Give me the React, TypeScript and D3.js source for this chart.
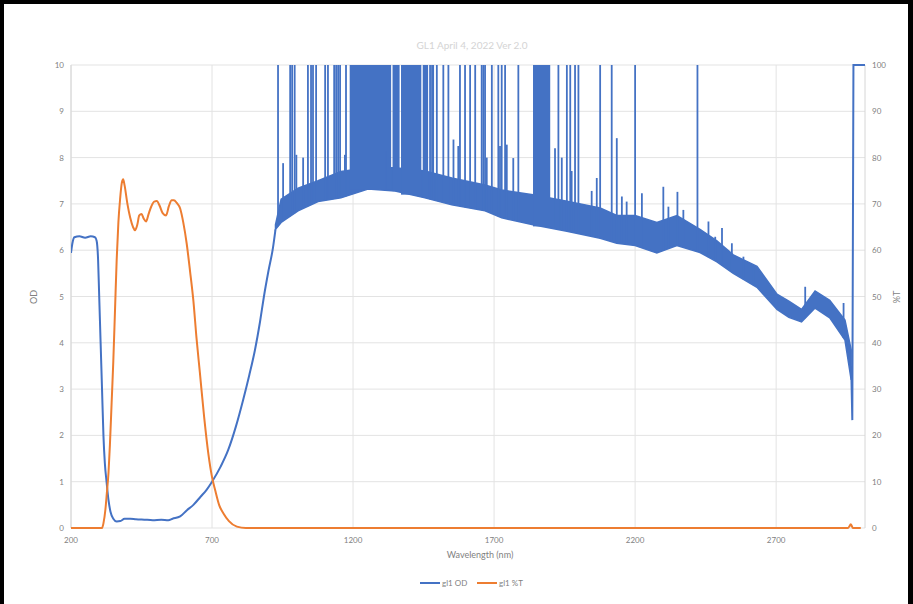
import React from "react";
import * as d3 from "d3";

// ---------- data ----------
const xTicks = [200, 700, 1200, 1700, 2200, 2700];
const odTicks = [0, 1, 2, 3, 4, 5, 6, 7, 8, 9, 10];
const tTicks = [0, 10, 20, 30, 40, 50, 60, 70, 80, 90, 100];

// gl1 OD – smooth part (nm, OD)
const odSmoothNm = [200, 205, 212, 230, 250, 270, 285, 291, 296, 300, 305, 310, 315, 320, 326, 333, 340, 350, 362, 375, 390, 410, 430, 460, 490, 520, 545, 560, 587, 610, 634, 660, 680, 700, 730, 757, 785, 810, 832, 852, 870, 884, 900, 916, 925];
const odSmoothVal = [5.94, 6.15, 6.28, 6.3, 6.27, 6.3, 6.28, 6.2, 5.8, 5.0, 4.0, 3.0, 2.0, 1.4, 1.0, 0.6, 0.35, 0.2, 0.14, 0.15, 0.2, 0.2, 0.19, 0.18, 0.17, 0.18, 0.17, 0.2, 0.25, 0.38, 0.5, 0.68, 0.82, 1.0, 1.32, 1.68, 2.2, 2.76, 3.3, 3.84, 4.45, 5.0, 5.55, 6.05, 6.45];

// gl1 OD – noisy region, envelope of the noise band
const bandNm = [925, 945, 1005, 1076, 1157, 1253, 1349, 1455, 1550, 1668, 1727, 1838, 1958, 2076, 2135, 2200, 2277, 2348, 2430, 2490, 2548, 2632, 2703, 2745, 2790, 2838, 2890, 2944, 2966];
const bandLow = [6.45, 6.6, 6.85, 7.05, 7.13, 7.32, 7.28, 7.13, 6.98, 6.85, 6.7, 6.55, 6.41, 6.26, 6.15, 6.1, 5.94, 6.1, 5.95, 5.75, 5.5, 5.2, 4.72, 4.55, 4.45, 4.75, 4.54, 4.06, 3.2];
const bandHigh = [6.55, 7.1, 7.34, 7.5, 7.7, 7.78, 7.78, 7.71, 7.56, 7.41, 7.3, 7.2, 7.06, 6.91, 6.75, 6.75, 6.6, 6.75, 6.45, 6.2, 5.9, 5.65, 5.05, 4.9, 4.72, 5.12, 4.92, 4.49, 3.85];

// spikes reaching the top of the axis (OD 10)
const spikeNm = [934, 977, 984, 993, 1040, 1051, 1058, 1069, 1101, 1111, 1133, 1140, 1147, 1154, 1175, 1473, 1480, 1484, 1497, 1520, 1538, 1579, 1597, 1615, 1633, 1656, 1662, 1668, 1692, 1715, 1727, 1739, 1786, 1928, 1958, 1970, 1987, 1999, 2076, 2117, 2200, 2421];
// shorter spikes (nm, peak OD)
const partialNm = [952, 999, 1023, 1171, 1317, 1556, 1573, 1674, 1721, 1745, 1768, 1810, 1916, 1940, 1975, 2046, 2064, 2135, 2153, 2170, 2224, 2300, 2318, 2350, 2371, 2460, 2484, 2508, 2543, 2584, 2620, 2803, 2939];
const partialPeak = [7.88, 8.06, 8.0, 8.06, 8.14, 8.39, 8.25, 8.0, 8.25, 8.28, 7.99, 7.2, 8.2, 8.0, 7.71, 7.28, 7.56, 8.42, 7.16, 7.05, 7.23, 7.37, 6.94, 7.26, 6.87, 6.62, 6.29, 6.48, 6.15, 5.86, 5.64, 5.21, 4.86];
// ranges saturated at OD 10
const satStart = [1188, 1340, 1370, 1447, 1838];
const satEnd = [1335, 1365, 1442, 1466, 1899];

// tail of OD trace
const tailNm = [2966, 2970, 2974, 3015];
const tailVal = [3.5, 2.33, 10, 10];

// gl1 %T
const tNm = [200, 310, 315, 322, 327, 333, 338, 344, 350, 356, 362, 368, 374, 380, 385, 390, 400, 410, 420, 427, 435, 442, 450, 458, 466, 475, 485, 495, 504, 515, 525, 537, 547, 557, 565, 575, 587, 598, 610, 622, 634, 645, 657, 672, 687, 700, 711, 725, 740, 760, 788, 820, 2955, 2965, 2972, 3000];
const tVal = [0, 0, 1, 4, 7.5, 12, 18, 27, 36, 47, 58, 66, 71, 74.5, 75.3, 74, 70, 67, 65, 64.3, 65.5, 67.5, 67.8, 66.8, 66.2, 67.8, 69.5, 70.5, 70.6, 69.5, 68, 67.5, 69.5, 70.8, 70.8, 70.2, 69, 66, 61.5, 55.5, 49, 41, 33.5, 24, 16, 11, 8.2, 5, 3.2, 1.5, 0.3, 0, 0, 0.8, 0, 0];

const seriesNames = ["gl1 OD", "gl1 %T"];
const title = "GL1 April 4, 2022 Ver 2.0";

// ---------- chart ----------
const W = 913;
const H = 604;
const BLUE = "#4472C4";
const ORANGE = "#ED7D31";
const FONT = "Lato, 'Open Sans', sans-serif";

export default function App() {
  const x = d3.scaleLinear().domain([200, 3015]).range([71, 865]);
  const yL = d3.scaleLinear().domain([0, 10]).range([528, 65]);
  const yR = d3.scaleLinear().domain([0, 100]).range([528, 65]);

  const odSmooth = odSmoothNm.map((n, i) => [n, odSmoothVal[i]] as [number, number]);
  const tail = tailNm.map((n, i) => [n, tailVal[i]] as [number, number]);
  const tPts = tNm.map((n, i) => [n, tVal[i]] as [number, number]);
  const band = bandNm.map((n, i) => ({ n, lo: bandLow[i], hi: bandHigh[i] }));

  const lineL = d3
    .line<[number, number]>()
    .x((d) => x(d[0]))
    .y((d) => yL(d[1]))
    .curve(d3.curveMonotoneX);
  const lineLin = d3
    .line<[number, number]>()
    .x((d) => x(d[0]))
    .y((d) => yL(d[1]));
  const lineR = d3
    .line<[number, number]>()
    .x((d) => x(d[0]))
    .y((d) => yR(d[1]))
    .curve(d3.curveMonotoneX);
  const bandArea = d3
    .area<{ n: number; lo: number; hi: number }>()
    .x((d) => x(d.n))
    .y0((d) => yL(d.lo))
    .y1((d) => yL(d.hi))
    .curve(d3.curveLinear);

  const loAt = d3.scaleLinear().domain(bandNm).range(bandLow).clamp(true);

  return (
    <div style={{ position: "absolute", left: 0, top: 0 }}>
      <svg width={W} height={H} style={{ display: "block", background: "#fff" }}>
        <defs>
          <clipPath id="plotclip">
            <rect x={71} y={64} width={794} height={466} />
          </clipPath>
        </defs>
        <rect x={0} y={0} width={W} height={H} fill="#fff" />

        {/* title (faint) */}
        <text x={472} y={49} textAnchor="middle" fontFamily={FONT} fontSize={10} fill="#d4d4d4">
          {title}
        </text>

        {/* gridlines */}
        {odTicks.map((t) => (
          <line key={"gy" + t} x1={71} x2={865} y1={yL(t)} y2={yL(t)} stroke="#e3e3e3" strokeWidth={1} />
        ))}
        {xTicks.map((t) => (
          <line key={"gx" + t} x1={x(t)} x2={x(t)} y1={65} y2={528} stroke="#e3e3e3" strokeWidth={1} />
        ))}
        <line x1={865} x2={865} y1={65} y2={528} stroke="#d6d6d6" strokeWidth={1} />
        <line x1={71} x2={71} y1={65} y2={528} stroke="#d6d6d6" strokeWidth={1} />

        {/* tick labels */}
        {odTicks.map((t) => (
          <text key={"ly" + t} x={64} y={yL(t) + 3} textAnchor="end" fontFamily={FONT} fontSize={8} fill="#7f7f7f">
            {t}
          </text>
        ))}
        {tTicks.map((t) => (
          <text key={"ry" + t} x={872} y={yR(t) + 3} textAnchor="start" fontFamily={FONT} fontSize={8} fill="#7f7f7f">
            {t}
          </text>
        ))}
        {xTicks.map((t) => (
          <text key={"lx" + t} x={x(t)} y={543} textAnchor="middle" fontFamily={FONT} fontSize={8} fill="#7f7f7f">
            {t}
          </text>
        ))}

        {/* axis titles */}
        <text transform="translate(37,297) rotate(-90)" textAnchor="middle" fontFamily={FONT} fontSize={9} fill="#7f7f7f">
          OD
        </text>
        <text transform="translate(900,297) rotate(-90)" textAnchor="middle" fontFamily={FONT} fontSize={9} fill="#7f7f7f">
          %T
        </text>
        <text x={480} y={558} textAnchor="middle" fontFamily={FONT} fontSize={9} fill="#7f7f7f">
          Wavelength (nm)
        </text>

        <g clipPath="url(#plotclip)">
          {/* OD series */}
          <path d={lineL(odSmooth) || ""} fill="none" stroke={BLUE} strokeWidth={2} />
          <path d={bandArea(band) || ""} fill={BLUE} stroke={BLUE} strokeWidth={1.5} />
          {satStart.map((s, i) => (
            <rect
              key={"sat" + i}
              x={x(s)}
              width={x(satEnd[i]) - x(s)}
              y={yL(10)}
              height={yL(loAt((s + satEnd[i]) / 2)) - yL(10)}
              fill={BLUE}
            />
          ))}
          {spikeNm.map((n, i) => (
            <line key={"sp" + i} x1={x(n)} x2={x(n)} y1={yL(loAt(n))} y2={yL(10)} stroke={BLUE} strokeWidth={1.8} />
          ))}
          {partialNm.map((n, i) => (
            <line key={"pp" + i} x1={x(n)} x2={x(n)} y1={yL(loAt(n))} y2={yL(partialPeak[i])} stroke={BLUE} strokeWidth={1.8} />
          ))}
          <path d={lineLin(tail) || ""} fill="none" stroke={BLUE} strokeWidth={2} />

          {/* %T series */}
          <path d={lineR(tPts) || ""} fill="none" stroke={ORANGE} strokeWidth={2} />
        </g>

        {/* legend */}
        <line x1={420} x2={440} y1={583} y2={583} stroke={BLUE} strokeWidth={2} />
        <text x={442} y={586} fontFamily={FONT} fontSize={8} fill="#7f7f7f">
          {seriesNames[0]}
        </text>
        <line x1={477} x2={497} y1={583} y2={583} stroke={ORANGE} strokeWidth={2} />
        <text x={499} y={586} fontFamily={FONT} fontSize={8} fill="#7f7f7f">
          {seriesNames[1]}
        </text>

        {/* outer black frame */}
        <rect x={0} y={0} width={W} height={4} fill="#000" />
        <rect x={0} y={0} width={4} height={H} fill="#000" />
        <rect x={W - 5} y={0} width={5} height={H} fill="#000" />
      </svg>
    </div>
  );
}
